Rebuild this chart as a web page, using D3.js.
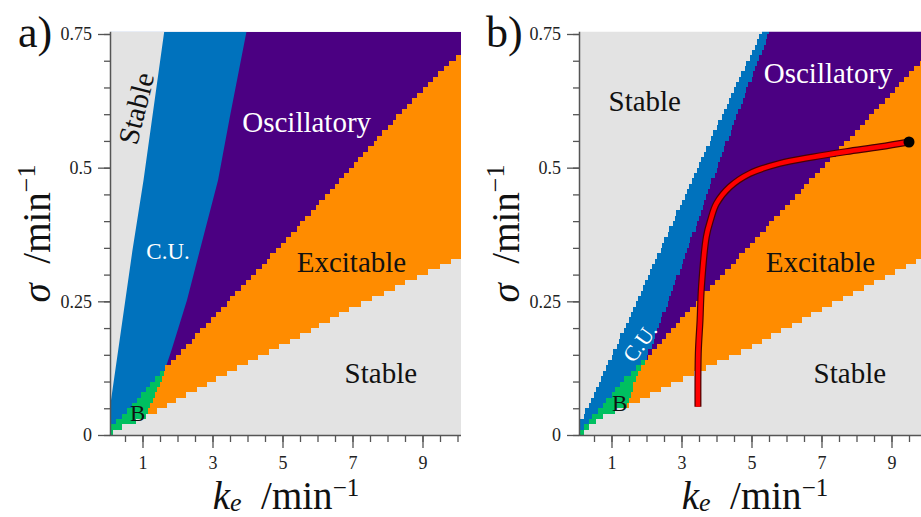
<!DOCTYPE html>
<html>
<head>
<meta charset="utf-8">
<script src="https://cdn.jsdelivr.net/npm/d3@7"></script>
<style>
  html, body { margin: 0; padding: 0; background: #fff; }
  svg { display: block; }
</style>
</head>
<body>
<svg id="chart" width="921" height="517" font-family="Liberation Serif"></svg>
<script>
// ---------------- tick values ----------------
const keMajorTicks = [1, 3, 5, 7, 9];
const keMinorTicks = [0.5, 1, 1.5, 2, 2.5, 3, 3.5, 4, 4.5, 5, 5.5, 6, 6.5, 7, 7.5, 8, 8.5, 9, 9.5, 10];
const sigmaMajorTicks = [0, 0.25, 0.5, 0.75];
const sigmaMinorTicks = [0, 0.05, 0.1, 0.15, 0.2, 0.25, 0.3, 0.35, 0.4, 0.45, 0.5, 0.55, 0.6, 0.65, 0.7, 0.75];

// ---------------- panel a: region boundaries, [k_e, sigma] ----------------
const aStableCU  = [[0.10, 0.065], [0.30, 0.156], [0.71, 0.344], [1.03, 0.477], [1.62, 0.754]];
const aCUOsc     = [[1.64, 0.122], [1.83, 0.159], [2.27, 0.252], [2.64, 0.346], [3.16, 0.477], [3.49, 0.593], [3.97, 0.754]];
const aCUBist    = [[0.10, 0.016], [0.78, 0.060], [1.40, 0.109], [1.62, 0.125]];
const aBistExc   = [[1.10, 0.035], [1.35, 0.075], [1.57, 0.109], [1.66, 0.125]];
const aOscExc    = [[1.66, 0.125], [3.48, 0.252], [4.83, 0.346], [5.49, 0.393], [6.73, 0.483], [8.69, 0.626], [10.10, 0.716]];
const aBistStable = [[0.10, 0.000], [0.25, 0.012], [0.85, 0.026], [1.10, 0.035]];
const aExcStable = [[1.10, 0.035], [3.49, 0.118], [5.49, 0.184], [6.78, 0.231], [10.10, 0.334]];

// ---------------- panel b: region boundaries, [k_e, sigma] ----------------
const bStableCU  = [[0.10, 0.022], [1.05, 0.153], [2.95, 0.427], [4.09, 0.589], [5.29, 0.754]];
const bCUOsc     = [[2.00, 0.143], [3.24, 0.360], [3.67, 0.439], [4.52, 0.589], [5.52, 0.754]];
const bCUBist    = [[0.10, 0.008], [0.81, 0.060], [1.33, 0.103], [2.00, 0.143]];
const bBistExc   = [[1.43, 0.053], [1.66, 0.103], [2.00, 0.143]];
const bOscExc    = [[2.00, 0.143], [3.24, 0.235], [5.81, 0.415], [8.29, 0.589], [10.10, 0.718]];
const bBistStable = [[0.10, 0.000], [0.47, 0.022], [0.86, 0.040], [1.43, 0.053]];
const bExcStable = [[1.43, 0.053], [3.24, 0.112], [4.86, 0.160], [7.20, 0.242], [9.84, 0.330], [10.10, 0.338]];

// ---------------- trajectory in panel b ----------------
const trajKe    = [3.47, 3.48, 3.53, 3.57, 3.71, 3.83, 4.00, 4.38, 4.95, 5.81, 6.76, 7.71, 8.67, 9.50];
const trajSigma = [0.053, 0.153, 0.215, 0.277, 0.371, 0.402, 0.433, 0.464, 0.489, 0.508, 0.520, 0.530, 0.539, 0.548];

// ---------------- region labels ----------------
const labelsA = [
  { text: "Stable",      ke: 0.81, sigma: 0.611, size: 29, color: "#111", angle: -76 },
  { text: "Oscillatory", ke: 5.69, sigma: 0.566, size: 29, color: "#fff" },
  { text: "C.U.",        ke: 1.73, sigma: 0.330, size: 23, color: "#fff" },
  { text: "Excitable",   ke: 6.97, sigma: 0.304, size: 29, color: "#111" },
  { text: "Stable",      ke: 7.81, sigma: 0.097, size: 29, color: "#111" },
  { text: "B",           ke: 0.86, sigma: 0.027, size: 23, color: "#111" }
];
const labelsB = [
  { text: "Stable",      ke: 1.95, sigma: 0.606, size: 29, color: "#111" },
  { text: "Oscillatory", ke: 7.19, sigma: 0.659, size: 29, color: "#fff" },
  { text: "Excitable",   ke: 6.97, sigma: 0.304, size: 29, color: "#111" },
  { text: "Stable",      ke: 7.81, sigma: 0.097, size: 29, color: "#111" },
  { text: "C.U.",        ke: 1.81, sigma: 0.173, size: 22, color: "#fff", angle: -54 },
  { text: "B",           ke: 1.23, sigma: 0.044, size: 23, color: "#111" }
];

// ---------------- styling ----------------
const FONT = "Liberation Serif";
const colors = {
  stable: "#e3e3e3",
  cu: "#0072bd",
  osc: "#4b0082",
  exc: "#ff8c00",
  bist: "#00c060"
};
const keMin = 0.1, keMax = 10.1, sigmaTop = 0.754;
const keStep = 0.05, sigmaStep = 0.01;

const svg = d3.select("#chart");
const y = d3.scaleLinear().domain([0, 0.75]).range([435, 34]);
const xA = d3.scaleLinear().domain([keMin, keMax]).range([111, 461]);
const xB = d3.scaleLinear().domain([keMin, keMax]).range([580, 930]);

// piecewise-linear lookups along a boundary polyline
const keAt = b => d3.scaleLinear().domain(b.map(p => p[1])).range(b.map(p => p[0])).clamp(true);
const sigmaAt = b => d3.scaleLinear().domain(b.map(p => p[0])).range(b.map(p => p[1])).clamp(true);

function panelGroup(x, id) {
  const g = svg.append("g");
  g.append("clipPath").attr("id", id).append("rect")
    .attr("x", x.range()[0]).attr("y", y(sigmaTop))
    .attr("width", x.range()[1] - x.range()[0]).attr("height", y(0) - y(sigmaTop));
  return g.append("g").attr("clip-path", `url(#${id})`);
}

// raster of the parameter grid, merged into horizontal runs
function drawCells(g, x, classify) {
  const nCols = Math.round((keMax - keMin) / keStep);
  const nRows = Math.ceil(sigmaTop / sigmaStep);
  const cells = g.append("g").attr("shape-rendering", "crispEdges");
  for (let j = 0; j < nRows; j++) {
    const s0 = j * sigmaStep, s1 = s0 + sigmaStep, sc = s0 + sigmaStep / 2;
    const y0 = Math.round(y(s0)), y1 = Math.round(y(s1));
    let start = 0, cls = classify(keMin + keStep / 2, sc);
    for (let i = 1; i <= nCols; i++) {
      const c = i < nCols ? classify(keMin + (i + 0.5) * keStep, sc) : "#end";
      if (c !== cls) {
        if (cls) {
          const x0 = Math.round(x(keMin + start * keStep)), x1 = Math.round(x(keMin + i * keStep));
          cells.append("rect").attr("x", x0).attr("y", y1)
            .attr("width", x1 - x0).attr("height", y0 - y1).attr("fill", colors[cls]);
        }
        start = i; cls = c;
      }
    }
  }
}

function drawAxes(x, axisRight) {
  const x0 = x.range()[0];
  const g = svg.append("g").attr("class", "axes");
  const yMinor = g.append("g").attr("transform", `translate(${x0 - 1},0)`)
    .call(d3.axisLeft(y).tickValues(sigmaMinorTicks).tickSize(6).tickSizeOuter(0).tickFormat(""));
  const yMajor = g.append("g").attr("transform", `translate(${x0 - 1},0)`)
    .call(d3.axisLeft(y).tickValues(sigmaMajorTicks).tickSize(12).tickSizeOuter(0).tickPadding(6)
      .tickFormat(d => String(d)));
  const xMinor = g.append("g").attr("transform", `translate(0,${y(0)})`)
    .call(d3.axisBottom(x).tickValues(keMinorTicks).tickSize(7).tickSizeOuter(0).tickFormat(""));
  const xMajor = g.append("g").attr("transform", `translate(0,${y(0)})`)
    .call(d3.axisBottom(x).tickValues(keMajorTicks).tickSize(13).tickSizeOuter(0).tickPadding(8)
      .tickFormat(d => String(d)));
  [yMinor, yMajor, xMinor, xMajor].forEach(a => {
    a.attr("font-family", FONT);
    a.select(".domain").remove();
    a.selectAll(".tick line").attr("stroke", "#555").attr("stroke-width", 1.3);
    a.selectAll(".tick text").attr("font-family", FONT)
      .attr("font-size", 18).attr("fill", "#222");
  });
  g.append("line").attr("x1", x0 - 0.5).attr("x2", x0 - 0.5)
    .attr("y1", y(sigmaTop)).attr("y2", y(0) + 1)
    .attr("stroke", "#555").attr("stroke-width", 1.5);
  g.append("line").attr("x1", x0 - 1.2).attr("x2", axisRight)
    .attr("y1", y(0) + 0.5).attr("y2", y(0) + 0.5)
    .attr("stroke", "#555").attr("stroke-width", 1.5);
}

function drawTitles(x, letter, letterX) {
  const xc = (x.range()[0] + x.range()[1]) / 2;
  // x axis title
  const t = svg.append("text").attr("x", xc).attr("y", 509).attr("text-anchor", "middle")
    .attr("font-family", FONT).attr("font-size", 39).attr("fill", "#111");
  t.append("tspan").attr("font-style", "italic").text("k");
  t.append("tspan").attr("font-style", "italic").attr("font-size", 26).attr("dy", 2).text("e");
  t.append("tspan").attr("dy", -2).text("\u2002/min");
  t.append("tspan").attr("font-size", 25).attr("dy", -13).text("\u22121");
  // y axis title
  const ty = svg.append("text")
    .attr("transform", `translate(${x.range()[0] - 61},${(y(0) + y(sigmaTop)) / 2}) rotate(-90)`)
    .attr("text-anchor", "middle").attr("font-family", FONT).attr("font-size", 39).attr("fill", "#111");
  ty.append("tspan").attr("font-style", "italic").text("\u03c3");
  ty.append("tspan").text("\u2002/min");
  ty.append("tspan").attr("font-size", 26).attr("dy", -15).text("\u22121");
  // panel letter
  svg.append("text").attr("x", letterX).attr("y", 47).attr("font-family", FONT)
    .attr("font-size", 44).attr("fill", "#111").text(letter);
}

function drawLabels(g, x, labels) {
  labels.forEach(l => {
    const t = g.append("text")
      .attr("text-anchor", "middle").attr("font-family", FONT)
      .attr("font-size", l.size).attr("fill", l.color);
    if (l.angle) {
      t.attr("transform", `translate(${x(l.ke)},${y(l.sigma)}) rotate(${l.angle})`)
        .attr("dy", "0.35em");
    } else {
      t.attr("x", x(l.ke)).attr("y", y(l.sigma));
    }
    t.text(l.text);
  });
}

// ================= panel a =================
{
  const g = panelGroup(xA, "clipA");
  const area = d3.line().x(d => xA(d[0])).y(d => y(d[1]));
  // smooth background layers
  g.append("rect").attr("x", xA(keMin)).attr("y", y(sigmaTop))
    .attr("width", xA(keMax) - xA(keMin)).attr("height", y(0) - y(sigmaTop)).attr("fill", colors.osc);
  const cuPoly = [[keMin, 0], [keMin, sigmaTop], ...aCUOsc.slice().reverse(), [aCUOsc[0][0], 0]];
  g.append("path").attr("d", area(cuPoly) + "Z").attr("fill", colors.cu);
  const stPoly = [...aStableCU, [keMin, sigmaTop]];
  g.append("path").attr("d", area(stPoly) + "Z").attr("fill", colors.stable);

  // gridded regions
  const lowerEdge = sigmaAt([...aBistStable, ...aExcStable.slice(1)]);
  const cuB = keAt(aCUBist);
  const leftExc = keAt([...aBistExc, ...aOscExc.slice(1)]);
  const bTop = aCUBist[aCUBist.length - 1][1];
  drawCells(g, xA, (k, s) => {
    if (s < lowerEdge(k)) return "stable";
    if (s < bTop) {
      if (k < cuB(s)) return null;
      return k < leftExc(s) ? "bist" : "exc";
    }
    return k > leftExc(s) ? "exc" : null;
  });
  drawLabels(g, xA, labelsA);
  drawAxes(xA, 461);
  drawTitles(xA, "a)", 18);
}

// ================= panel b =================
{
  const g = panelGroup(xB, "clipB");
  const lowerEdge = sigmaAt([...bBistStable, ...bExcStable.slice(1)]);
  const leftEdge = keAt(bStableCU);
  const cuB = keAt(bCUBist);
  const bE = keAt(bBistExc);
  const cuO = keAt(bCUOsc);
  const oE = sigmaAt(bOscExc);
  const bTop = bCUBist[bCUBist.length - 1][1];
  drawCells(g, xB, (k, s) => {
    if (s < lowerEdge(k)) return "stable";
    if (s >= bStableCU[0][1] && k < leftEdge(s)) return "stable";
    if (s < bTop) {
      if (k < cuB(s)) return "cu";
      return k < bE(s) ? "bist" : "exc";
    }
    if (k < cuO(s)) return "cu";
    return s > oE(k) ? "osc" : "exc";
  });

  // trajectory
  const traj = trajKe.map((k, i) => [k, trajSigma[i]]);
  const line = d3.line().x(d => xB(d[0])).y(d => y(d[1])).curve(d3.curveCatmullRom.alpha(0.5));
  g.append("path").attr("d", line(traj)).attr("fill", "none")
    .attr("stroke", "#4a0000").attr("stroke-width", 7);
  g.append("path").attr("d", line(traj)).attr("fill", "none")
    .attr("stroke", "#ff0000").attr("stroke-width", 4.6);
  const end = traj[traj.length - 1];
  g.append("circle").attr("cx", xB(end[0])).attr("cy", y(end[1])).attr("r", 5.5).attr("fill", "#000");

  drawLabels(g, xB, labelsB);
  drawAxes(xB, 921);
  drawTitles(xB, "b)", 486);
}
</script>
</body>
</html>
